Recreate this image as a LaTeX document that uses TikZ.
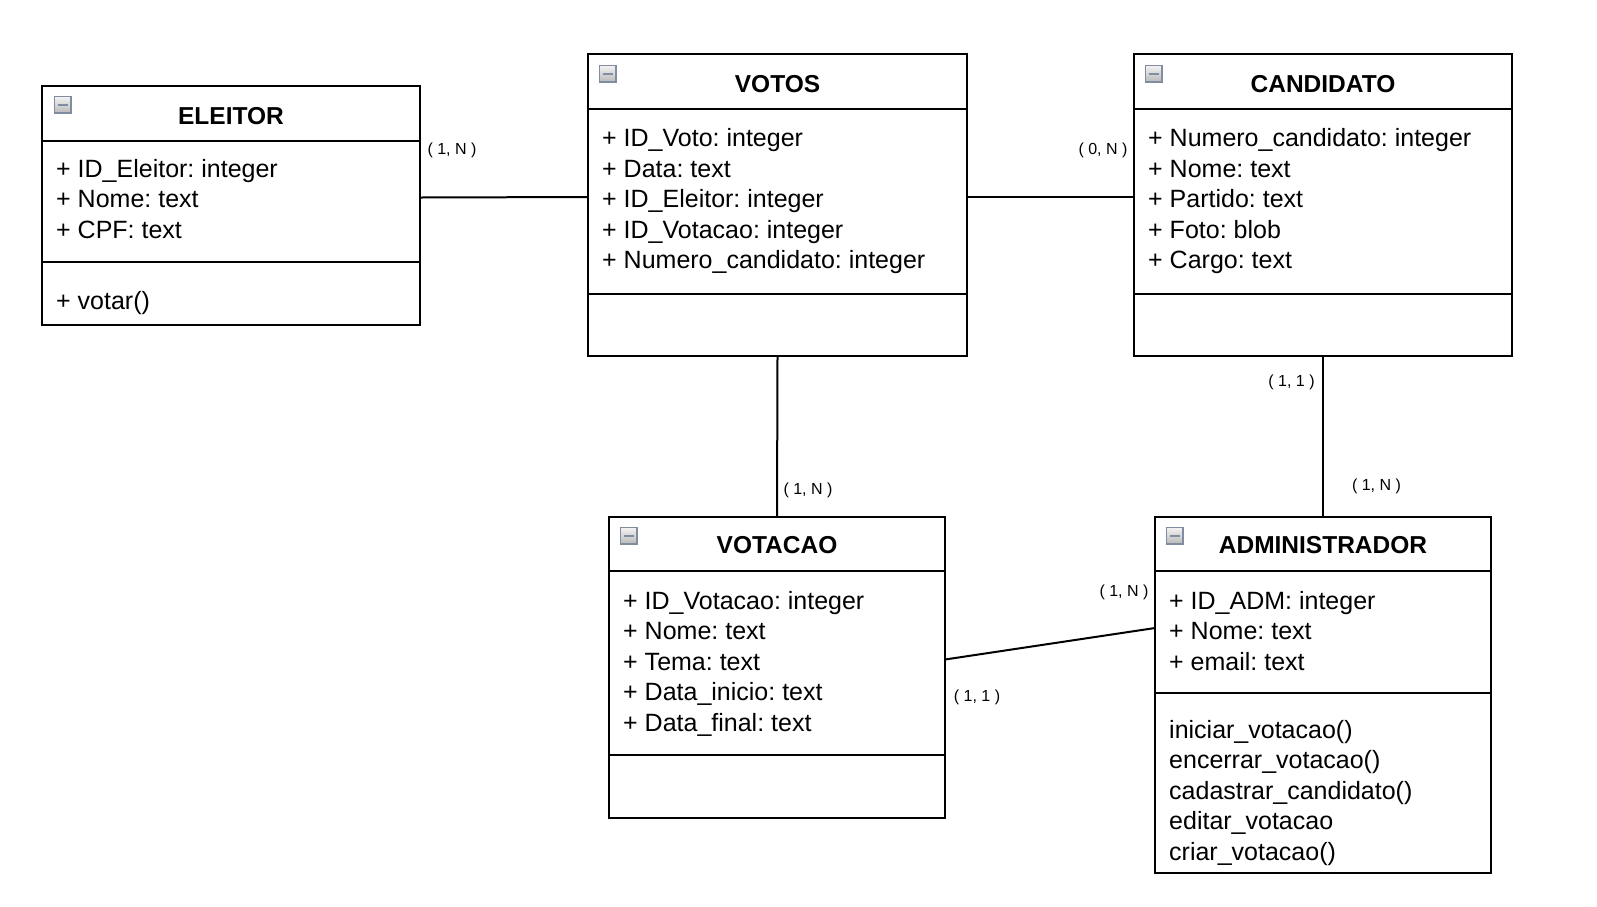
\documentclass[tikz,border=0pt]{standalone}
\usepackage{fontspec}
\setmainfont{Liberation Sans}
\usetikzlibrary{calc}
\frenchspacing

\definecolor{iconedge}{RGB}{128,140,160}

\tikzset{
  classbox/.style={draw, line width=2pt, anchor=north west, inner sep=0pt, outer sep=0pt},
  classtitle/.style={font=\fontsize{24.5}{28}\selectfont\bfseries, inner sep=0pt, anchor=base},
  member/.style={font=\fontsize{25}{30}\selectfont, inner sep=0pt, anchor=base west},
  card/.style={font=\fontsize{16}{18}\selectfont, inner sep=0pt},
  collapse/.style={draw=iconedge, line width=1.5pt, top color=gray!10, bottom color=gray!55,
    minimum size=16.5pt, inner sep=0pt, anchor=north west,
    path picture={\draw[line width=2.5pt] ([xshift=3pt]path picture bounding box.west)
      -- ([xshift=-3pt]path picture bounding box.east);}},
  link/.style={line width=2pt},
}

\begin{document}
\begin{tikzpicture}[x=1pt, y=-1pt]
  \useasboundingbox (0,0) rectangle (1597,906);

  % ELEITOR
  \node[classbox, minimum width=378pt, minimum height=239pt] (eleitor) at (42,86) {};
  \draw[link] ([yshift=-55pt]eleitor.north west) -- ([yshift=-55pt]eleitor.north east);
  \draw[link] ([yshift=-176pt]eleitor.north west) -- ([yshift=-176pt]eleitor.north east);
  \node[collapse] (eleitor-icon) at ([shift={(11.75pt,-9.75pt)}]eleitor.north west) {};
  \node[classtitle] (eleitor-title) at ([yshift=-38pt]eleitor.north) {ELEITOR};
  \foreach \txt [count=\i from 0] in {+ ID\_Eleitor: integer, + Nome: text, + CPF: text}
    \node[member] (eleitor-a\i) at ([shift={(14pt,{-91pt-30.5pt*\i})}]eleitor.north west) {\txt};
  \node[member] (eleitor-m0) at ([shift={(14pt,-223pt)}]eleitor.north west) {+ votar()};

  % VOTOS
  \node[classbox, minimum width=379pt, minimum height=302pt] (votos) at (588,54) {};
  \draw[link] ([yshift=-55pt]votos.north west) -- ([yshift=-55pt]votos.north east);
  \draw[link] ([yshift=-239.5pt]votos.north west) -- ([yshift=-239.5pt]votos.north east);
  \node[collapse] (votos-icon) at ([shift={(10.75pt,-10.75pt)}]votos.north west) {};
  \node[classtitle] (votos-title) at ([yshift=-38pt]votos.north) {VOTOS};
  \foreach \txt [count=\i from 0] in {+ ID\_Voto: integer, + Data: text, + ID\_Eleitor: integer,
      + ID\_Votacao: integer, + Numero\_candidato: integer}
    \node[member] (votos-a\i) at ([shift={(14pt,{-92.5pt-30.5pt*\i})}]votos.north west) {\txt};

  % CANDIDATO
  \node[classbox, minimum width=378pt, minimum height=302pt] (candidato) at (1134,54) {};
  \draw[link] ([yshift=-55pt]candidato.north west) -- ([yshift=-55pt]candidato.north east);
  \draw[link] ([yshift=-240pt]candidato.north west) -- ([yshift=-240pt]candidato.north east);
  \node[collapse] (candidato-icon) at ([shift={(10.75pt,-10.75pt)}]candidato.north west) {};
  \node[classtitle] (candidato-title) at ([yshift=-38pt]candidato.north) {CANDIDATO};
  \foreach \txt [count=\i from 0] in {+ Numero\_candidato: integer, + Nome: text, + Partido: text,
      + Foto: blob, + Cargo: text}
    \node[member] (candidato-a\i) at ([shift={(14pt,{-92.5pt-30.5pt*\i})}]candidato.north west) {\txt};

  % VOTACAO
  \node[classbox, minimum width=336pt, minimum height=301pt] (votacao) at (609,517) {};
  \draw[link] ([yshift=-54pt]votacao.north west) -- ([yshift=-54pt]votacao.north east);
  \draw[link] ([yshift=-238pt]votacao.north west) -- ([yshift=-238pt]votacao.north east);
  \node[collapse] (votacao-icon) at ([shift={(10.75pt,-9.75pt)}]votacao.north west) {};
  \node[classtitle] (votacao-title) at ([yshift=-36.5pt]votacao.north) {VOTACAO};
  \foreach \txt [count=\i from 0] in {+ ID\_Votacao: integer, + Nome: text, + Tema: text,
      + Data\_inicio: text, + Data\_final: text}
    \node[member] (votacao-a\i) at ([shift={(14pt,{-92pt-30.5pt*\i})}]votacao.north west) {\txt};

  % ADMINISTRADOR
  \node[classbox, minimum width=336pt, minimum height=356pt] (administrador) at (1155,517) {};
  \draw[link] ([yshift=-54pt]administrador.north west) -- ([yshift=-54pt]administrador.north east);
  \draw[link] ([yshift=-176pt]administrador.north west) -- ([yshift=-176pt]administrador.north east);
  \node[collapse] (administrador-icon) at ([shift={(10.75pt,-9.75pt)}]administrador.north west) {};
  \node[classtitle] (administrador-title) at ([yshift=-36.5pt]administrador.north) {ADMINISTRADOR};
  \foreach \txt [count=\i from 0] in {+ ID\_ADM: integer, + Nome: text, + email: text}
    \node[member] (administrador-a\i) at ([shift={(14pt,{-92pt-30.5pt*\i})}]administrador.north west) {\txt};
  \foreach \txt [count=\i from 0] in {iniciar\_votacao(), encerrar\_votacao(), cadastrar\_candidato(),
      editar\_votacao, criar\_votacao()}
    \node[member] (administrador-m\i) at ([shift={(14pt,{-221pt-30.5pt*\i})}]administrador.north west) {\txt};

  % associations
  \draw[link] ([yshift=8pt]eleitor.east) -- ([yshift=8pt]votos.west);
  \draw[link] ([yshift=8pt]votos.east) -- ([yshift=8pt]candidato.west);
  \draw[link] (votos.south) -- (votacao.north);
  \draw[link] (candidato.south) -- (administrador.north);
  \draw[link] ([yshift=8pt]votacao.east) -- ([yshift=67pt]administrador.west);

  % multiplicities
  \node[card] (card-eleitor) at (452,150) {( 1, N )};
  \node[card] (card-candidato) at (1103,150) {( 0, N )};
  \node[card] (card-cand-adm) at (1291.5,382) {( 1, 1 )};
  \node[card] (card-adm-cand) at (1376.5,486) {( 1, N )};
  \node[card] (card-votacao) at (808,490) {( 1, N )};
  \node[card] (card-adm-vot) at (1124,592) {( 1, N )};
  \node[card] (card-vot-adm) at (977,697) {( 1, 1 )};
\end{tikzpicture}
\end{document}
